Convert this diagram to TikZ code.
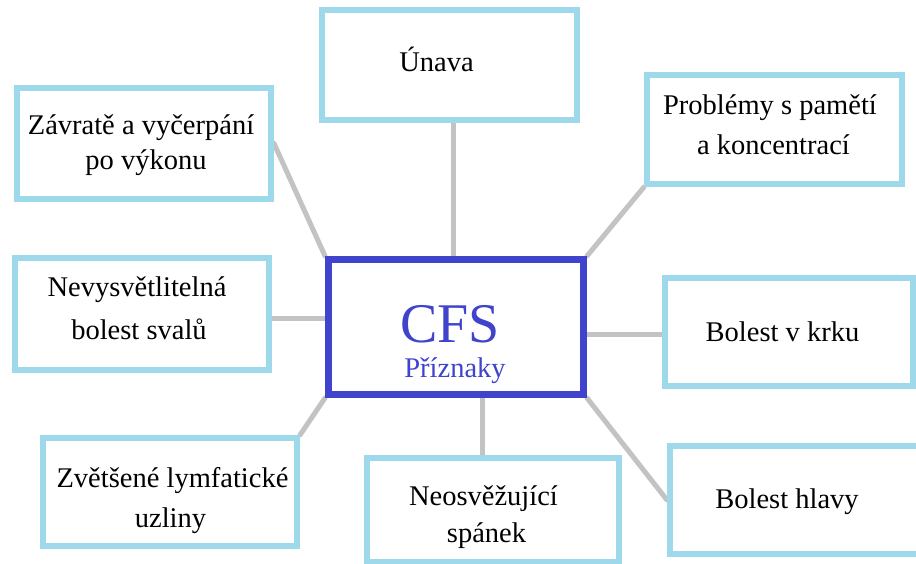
\documentclass[tikz,border=0pt]{standalone}
\usepackage{fontspec}
\setmainfont{Liberation Serif}
\usetikzlibrary{backgrounds}
\definecolor{boxblue}{RGB}{157,217,234}
\definecolor{cfsblue}{RGB}{64,68,204}
\definecolor{linkgray}{RGB}{195,195,195}
\tikzset{
  symbox/.style={draw=boxblue, line width=6pt, fill=white, rectangle, inner sep=0pt},
  cfsbox/.style={draw=cfsblue, line width=7pt, fill=white, rectangle, inner sep=0pt},
  txt/.style={anchor=base, inner sep=0pt, font=\fontsize{28.5}{34}\selectfont, text=black},
  link/.style={draw=linkgray, line width=5pt, line cap=round}
}
\begin{document}
\begin{tikzpicture}[x=1pt, y=-1pt]
\useasboundingbox (0,0) rectangle (916,564);
% boxes
\node[cfsbox, minimum width=255pt, minimum height=135pt] (cfs) at (456,327) {};
\node[symbox, minimum width=255pt, minimum height=110pt] (una) at (449.5,65) {};
\node[symbox, minimum width=254pt, minimum height=111pt] (zav) at (144,143.5) {};
\node[symbox, minimum width=255pt, minimum height=109pt] (pro) at (774.5,129.5) {};
\node[symbox, minimum width=254pt, minimum height=112pt] (nev) at (142,314) {};
\node[symbox, minimum width=248pt, minimum height=108pt] (krk) at (789,332) {};
\node[symbox, minimum width=254pt, minimum height=108pt] (zve) at (170,492) {};
\node[symbox, minimum width=252pt, minimum height=104pt] (neo) at (493,510) {};
\node[symbox, minimum width=257pt, minimum height=108pt] (hla) at (798.5,500) {};
% texts
\node[txt, font=\fontsize{56}{60}\selectfont, text=cfsblue] (cfsT) at (450,342) {CFS};
\node[txt, text=cfsblue] (cfsP) at (455,377) {Příznaky};
\node[txt] (unaT) at (436.5,72) {Únava};
\node[txt] (zav1) at (141,135) {Závratě a vyčerpání};
\node[txt] (zav2) at (146,170) {po výkonu};
\node[txt] (pro1) at (770,115) {Problémy s pamětí};
\node[txt] (pro2) at (773.5,155) {a koncentrací};
\node[txt] (nev1) at (137,297) {Nevysvětlitelná};
\node[txt] (nev2) at (139,339) {bolest svalů};
\node[txt] (krkT) at (782.5,341) {Bolest v krku};
\node[txt] (zve1) at (172.5,487) {Zvětšené lymfatické};
\node[txt] (zve2) at (170.5,527) {uzliny};
\node[txt] (neo1) at (483.5,505) {Neosvěžující};
\node[txt] (neo2) at (486.5,542) {spánek};
\node[txt] (hlaT) at (787,508) {Bolest hlavy};
% connectors
\coordinate (unaS) at ([xshift=3.5pt]una.south);
\coordinate (nevE) at ([yshift=-4pt]nev.east);
\coordinate (krkW) at ([yshift=-2pt]krk.west);
\coordinate (neoN) at ([xshift=-11pt]neo.north);
\begin{pgfonlayer}{background}
\fill[white] (0,0) rectangle (916,564);
\draw[link] (unaS) -- (unaS |- cfs.north);
\draw[link] (zav.east) -- (cfs.north west);
\draw[link] (pro.south west) -- (cfs.north east);
\draw[link] (nevE) -- (nevE -| cfs.west);
\draw[link] (krkW) -- (krkW -| cfs.east);
\draw[link] (zve.north east) -- (cfs.south west);
\draw[link] (neoN) -- (neoN |- cfs.south);
\draw[link] (cfs.south east) -- (hla.west);
\end{pgfonlayer}
\end{tikzpicture}
\end{document}
